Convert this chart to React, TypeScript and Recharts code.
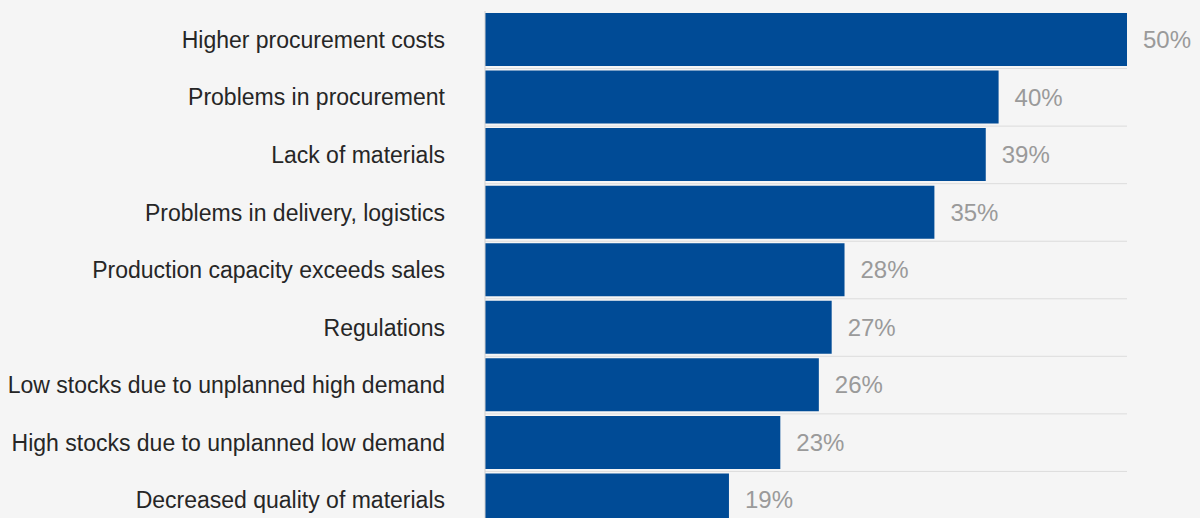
import { BarChart, Bar, XAxis, YAxis, CartesianGrid, LabelList } from 'recharts'

const categories = [
  'Higher procurement costs',
  'Problems in procurement',
  'Lack of materials',
  'Problems in delivery, logistics',
  'Production capacity exceeds sales',
  'Regulations',
  'Low stocks due to unplanned high demand',
  'High stocks due to unplanned low demand',
  'Decreased quality of materials',
]

const shares = [50, 40, 39, 35, 28, 27, 26, 23, 19]

const data = categories.map((name, i) => ({ name, value: shares[i] }))

const FONT = '"Liberation Sans", Arial, sans-serif'

// lines sit on the band borders, not on the category centres
const bandLines = ({ offset }: any) => {
  const step = offset.height / categories.length
  return categories.map((_, i) => offset.top + (i + 1) * step)
}

export default function App() {
  return (
    <div
      style={{
        position: 'absolute',
        top: 0,
        left: 0,
        width: 1200,
        height: 518,
        overflow: 'hidden',
        background: '#f5f5f5',
        fontFamily: FONT,
      }}
    >
      <BarChart
        width={1200}
        height={529}
        data={data}
        layout="vertical"
        margin={{ top: 11, right: 73, left: 0, bottom: 0 }}
      >
        <CartesianGrid
          vertical={false}
          stroke="#dcdcdc"
          horizontalCoordinatesGenerator={bandLines}
        />
        <XAxis type="number" domain={[0, 50]} hide />
        <YAxis
          type="category"
          dataKey="name"
          width={485}
          axisLine={{ stroke: '#cfcfcf' }}
          tickLine={false}
          tickMargin={34}
          tick={{ fontSize: 23, fill: '#262626', fontFamily: FONT }}
        />
        <Bar dataKey="value" fill="#004b96" barSize={53} isAnimationActive={false}>
          <LabelList
            dataKey="value"
            position="right"
            offset={16}
            formatter={(v: any) => `${v}%`}
            style={{ fontSize: 24, fill: '#9a9a9a', fontFamily: FONT }}
          />
        </Bar>
      </BarChart>
    </div>
  )
}
